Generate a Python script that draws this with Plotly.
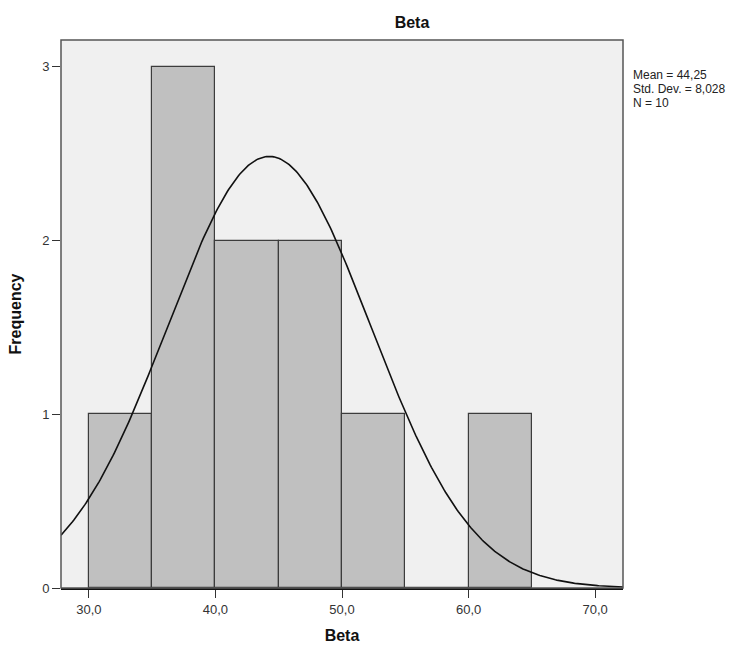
import numpy as np
import plotly.graph_objects as go

# Histogram data (bin edges and counts)
bin_starts = [30, 35, 40, 45, 50, 55, 60]
bin_width = 5
counts = [1, 3, 2, 2, 1, 0, 1]

# Summary statistics shown in the chart
mean = 44.25
std_dev = 8.028
n = 10
stat_lines = ["Mean = 44,25", "Std. Dev. = 8,028", "N = 10"]

x_ticks = [30, 40, 50, 60, 70]
x_tick_labels = ["30,0", "40,0", "50,0", "60,0", "70,0"]
y_ticks = [0, 1, 2, 3]
y_tick_labels = ["0", "1", "2", "3"]

x_range = [27.8, 72.2]
y_range = [0, 3.155]

FONT = "Liberation Sans, Arial, sans-serif"

# Normal curve scaled to histogram
xs = np.linspace(x_range[0], x_range[1], 400)
ys = n * bin_width * np.exp(-0.5 * ((xs - mean) / std_dev) ** 2) / (std_dev * np.sqrt(2 * np.pi))

fig = go.Figure()
fig.add_trace(go.Bar(
    x=[s + bin_width / 2 for s in bin_starts],
    y=counts,
    width=bin_width,
    marker=dict(color="#c0c0c0", line=dict(color="#3c3c3c", width=1.2)),
    hoverinfo="skip",
))
fig.add_trace(go.Scatter(
    x=xs, y=ys, mode="lines",
    line=dict(color="#111111", width=1.6),
    hoverinfo="skip",
))

plot_h = 648 - 40 - 60
annotations = []
for i, line in enumerate(stat_lines):
    annotations.append(dict(
        text=line, xref="paper", yref="paper", x=1.0,
        y=1 - (35 + 14 * i) / plot_h,
        xshift=8, xanchor="left", yanchor="middle", align="left", showarrow=False,
        font=dict(size=12, color="#222222"),
    ))

fig.update_layout(
    width=748, height=648,
    margin=dict(l=61, r=125, t=40, b=60),
    paper_bgcolor="white",
    plot_bgcolor="#f0f0f0",
    showlegend=False,
    bargap=0,
    font=dict(family=FONT, color="#222222", size=12),
    title=dict(text="<b>Beta</b>", x=412 / 748, xref="container", xanchor="center",
               y=1 - 22 / 648, yref="container", yanchor="middle",
               font=dict(family=FONT, size=16, color="#111111")),
    xaxis=dict(
        range=x_range, tickvals=x_ticks, ticktext=x_tick_labels,
        showgrid=False, zeroline=False, automargin=False,
        showline=True, linecolor="#111111", linewidth=2,
        ticks="outside", ticklen=8, tickcolor="#333333", tickwidth=1.2,
        tickfont=dict(size=13, color="#333333"),
        title=dict(text="<b>Beta</b>", font=dict(size=16, color="#111111"), standoff=14),
    ),
    yaxis=dict(
        range=y_range, tickvals=y_ticks, ticktext=y_tick_labels,
        showgrid=False, zeroline=False, automargin=False,
        showline=False,
        ticks="outside", ticklen=8, tickcolor="#333333", tickwidth=1.2,
        tickfont=dict(size=13, color="#333333"),
        title=dict(text="<b>Frequency</b>", font=dict(size=16, color="#111111"), standoff=16),
    ),
    shapes=[dict(type="rect", xref="paper", yref="paper", x0=0, y0=0, x1=1, y1=1,
                 line=dict(color="#555555", width=1.5), layer="above")],
    annotations=annotations,
)

fig.write_html("out.html")
